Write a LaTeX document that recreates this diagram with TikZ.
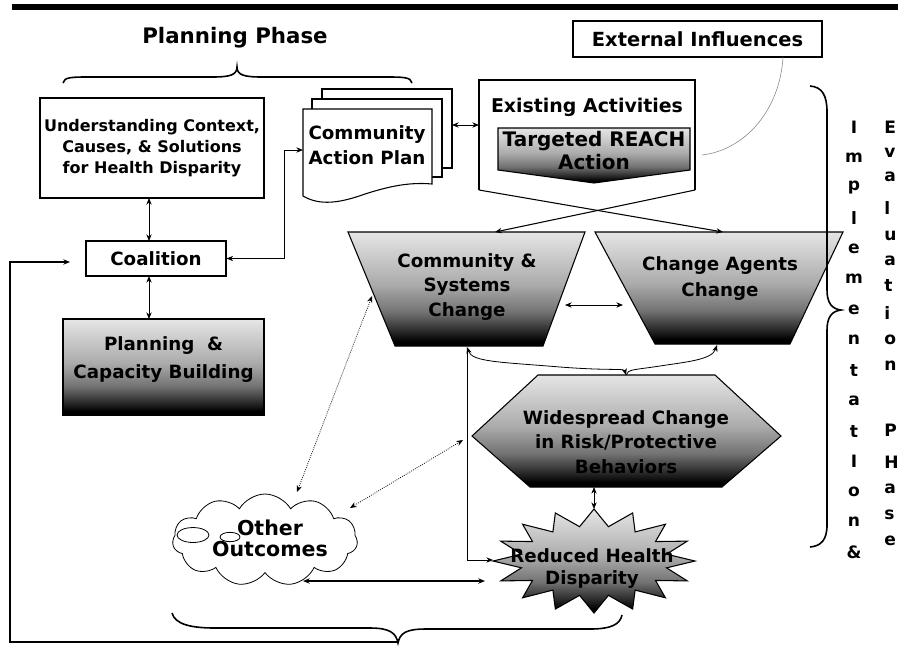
\documentclass[tikz,border=0pt]{standalone}
\usepackage{fontspec}
\setmainfont{DejaVu Sans}
\usetikzlibrary{arrows.meta,shapes.symbols,calc}
\pgfdeclareverticalshading{dk}{100bp}{color(0bp)=(black); color(27bp)=(black); color(32bp)=(black!82); color(40bp)=(black!55); color(52bp)=(black!33); color(65bp)=(black!20); color(75bp)=(black!10); color(100bp)=(black!10)}
\begin{document}
\begin{tikzpicture}[x=0.75pt,y=-0.75pt,
  ln/.style={line width=0.8pt},
  bx/.style={draw, line width=0.8pt, fill=white},
  shd/.style={draw, line width=0.8pt, shade, shading=dk},
  tx/.style={font=\bfseries\fontsize{13.7}{18.7}\selectfont, align=center, inner sep=0pt},
  ar/.style={line width=0.6pt, -{Stealth[length=5pt,width=4pt]}},
  dar/.style={line width=0.6pt, {Stealth[length=5pt,width=4pt]}-{Stealth[length=5pt,width=4pt]}},
  dotar/.style={dar, densely dotted},
  br/.style={line width=1.2pt},
  ltr/.style={font=\bfseries\fontsize{12.8}{13}\selectfont, inner sep=0pt}
]
\useasboundingbox (0,0) rectangle (898,669);
\fill (12,4) rectangle (898,10);

% Planning phase title and brace
\node[tx, font=\bfseries\fontsize{16}{20}\selectfont] (pp) at (235,38) {Planning Phase};
\draw[br] (63,83) .. controls (64,77) and (72,77) .. (90,77) -- (212,77) .. controls (230,77) and (237,75) .. (237,67) .. controls (237,75) and (244,77) .. (262,77) -- (385,77) .. controls (403,77) and (411,77) .. (412,83);

% Understanding
\node[bx, tx, font=\bfseries\fontsize{12}{16}\selectfont, minimum width=224*0.75pt, minimum height=100*0.75pt] (und) at (152,148) {Understanding Context,\\Causes, \& Solutions\\for Health Disparity};

% Community Action Plan (document stack)
\draw[bx] (322,89) rectangle (452,168);
\draw[bx] (312,99) rectangle (442,177);
\draw[bx] (303,109) -- (432,109) -- (432,184) .. controls (410,182) and (390,186) .. (365,194) .. controls (340,203) and (320,206) .. (303,196) -- cycle;
\node[tx] (cap) at (367,145) {Community\\Action Plan};
\coordinate (capR) at (452,125);
\coordinate (capL) at (303,150);

% Existing activities
\coordinate (exL) at (479,125);
\coordinate (exBL) at (479,190);
\coordinate (exBR) at (695,190);
\draw[ln] (exBL) -- (479,80) -- (695,80) -- (exBR);
\node[tx, font=\bfseries\fontsize{14.2}{18}\selectfont] (ex) at (587,107) {Existing Activities};
\draw[shd] (498,128) -- (690,128) -- (690,170) -- (594,183) -- (498,170) -- cycle;
\node[tx, font=\bfseries\fontsize{15}{17.2}\selectfont] (reach) at (594,151) {Targeted REACH\\Action};
\draw[dar] (capR) -- (exL);

% External influences
\node[bx, tx, font=\bfseries\fontsize{14.6}{18}\selectfont, minimum width=249*0.75pt, minimum height=36*0.75pt] (ext) at (697.5,39) {External Influences};
\coordinate (extB) at (783,57);
\coordinate (reachR) at (702,155);
\draw[gray, line width=0.4pt] (extB) .. controls (780,110) and (745,150) .. (reachR);

% Coalition
\node[bx, tx, minimum width=140*0.75pt, minimum height=35*0.75pt] (coal) at (156,258.5) {Coalition};
\coordinate (undB) at (149,198);
\coordinate (coalT) at (149,241);
\coordinate (coalB) at (149,276);
\coordinate (pcbT) at (149,319);
\draw[dar] (undB) -- (coalT);
\draw[dar] (coalB) -- (pcbT);
\draw[dar] (coal.east) -- (284,258.5) -- (284,150) -- (capL);

% Planning & capacity building
\node[shd, minimum width=201*0.75pt, minimum height=96*0.75pt, inner sep=0pt] (pcb) at (163.5,367) {};
\node[tx, font=\bfseries\fontsize{13.7}{21}\selectfont] (pcbt) at (163.5,360) {Planning \ \&\\Capacity Building};

% Feedback loop
\coordinate (brTip) at (398,642);
\coordinate (coalIn) at (70,262);
\draw[ln, -{Stealth[length=5pt,width=4pt]}] (brTip) -- (10,642) -- (10,262) -- (coalIn);

% bottom brace
\draw[br] (172,613) .. controls (175,624) and (190,628) .. (215,628) -- (370,628) .. controls (390,628) and (396,633) .. (398,643) .. controls (400,633) and (406,629) .. (426,629) -- (590,629) .. controls (612,629) and (620,624) .. (622,615);

% Community & Systems change
\draw[shd] (348,232) -- (585,232) -- (543,346) -- (395,346) -- cycle;
\node[tx] (csc) at (467,287) {Community \&\\Systems\\Change};
\coordinate (cscT) at (495,232);
\coordinate (cscB) at (467,347);
\coordinate (cscR) at (565,305);
\coordinate (cscL) at (372,296);

% Change agents change
\draw[shd] (595,232) -- (843,232) -- (790,344) -- (655,344) -- cycle;
\node[tx, font=\bfseries\fontsize{13.7}{20}\selectfont] (cac) at (720,278.5) {Change Agents\\Change};
\coordinate (cacT) at (723,232);
\coordinate (cacB) at (717,345);
\coordinate (cacL) at (623,305);

\draw[ln, -{Stealth[length=5pt,width=4pt]}] (exBL) -- (cacT);
\draw[ln, -{Stealth[length=5pt,width=4pt]}] (exBR) -- (cscT);
\draw[dar] (cscR) -- (cacL);

% Widespread change
\draw[shd] (538,375) -- (715,375) -- (781,436) -- (722,487) -- (530,487) -- (472,436) -- cycle;
\node[tx, font=\bfseries\fontsize{13.7}{18.4}\selectfont] (wcr) at (626,442) {Widespread Change\\in Risk/Protective\\Behaviors};
\coordinate (wcrT) at (626,375);
\coordinate (wcrB) at (594,487);
\coordinate (wcrL) at (463,440);

\draw[dar] (cscB) .. controls (472,362) and (500,362) .. (560,367) .. controls (612,371) and (624,368) .. (wcrT);
\draw[line width=0.6pt, {Stealth[length=5pt,width=4pt]}-] (cacB) .. controls (712,360) and (685,362) .. (660,366) .. controls (634,370) and (628,369) .. (wcrT);

% Reduced health disparity star
\path[shd] plot[variable=\t, samples at={0,1,...,31}] ({594+ifthenelse(mod(\t,2)==0,101,74)*cos(\t*11.25-90)}, {561+ifthenelse(mod(\t,2)==0,52,35)*sin(\t*11.25-90)}) -- cycle;
\node[tx, font=\bfseries\fontsize{13.7}{16.5}\selectfont] (rhd) at (592,569) {Reduced Health\\Disparity};
\coordinate (rhdT) at (594,509);
\coordinate (rhdL) at (493,560);
\coordinate (rhdL2) at (485,581);
\draw[dar] (wcrB) -- (rhdT);
\draw[ar] (467,351) -- (467,560) -- (rhdL);

% Other outcomes cloud
\node[cloud, draw, fill=white, line width=0.6pt, cloud puffs=11, cloud puff arc=120, aspect=2, minimum width=185*0.75pt, minimum height=92*0.75pt, inner sep=0pt] (oo) at (265,540) {};
\draw[fill=white, line width=0.6pt] (193,535) ellipse [x radius=12pt, y radius=5.6pt];
\draw[fill=white, line width=0.6pt] (230,537) ellipse [x radius=7.5pt, y radius=3.5pt];
\node[tx, font=\bfseries\fontsize{15.4}{15.8}\selectfont] (oot) at (270,538) {Other\\Outcomes};
\coordinate (ooT) at (297,492);
\coordinate (ooR) at (350,508);
\coordinate (ooB) at (303,581);
\draw[dar, line width=1pt] (ooB) -- (rhdL2);
\draw[dotar] (cscL) -- (ooT);
\draw[dotar] (wcrL) -- (ooR);

% right brace
\draw[br] (810,86) .. controls (822,87) and (827,95) .. (827,112) -- (827,290) .. controls (827,303) and (832,309) .. (841,310) .. controls (832,311) and (827,317) .. (827,330) -- (827,525) .. controls (827,540) and (821,546) .. (810,547);

% vertical letters
\foreach \ch [count=\i from 0] in {I,m,p,l,e,m,e,n,t,a,t,I,o,n,\&}
  \node[ltr] at (854,{127+30.4*\i}) {\ch};
\begin{scope}
\clip (0,0) rectangle (898,669);
\foreach \ch/\yy in {E/127,v/153,a/177,l/208,u/236,a/261,t/285,i/313,o/340,n/366,P/430,H/462,a/489,s/515,e/541}
  \node[ltr, anchor=west] at (884,\yy) {\ch};
\end{scope}
\end{tikzpicture}
\end{document}
